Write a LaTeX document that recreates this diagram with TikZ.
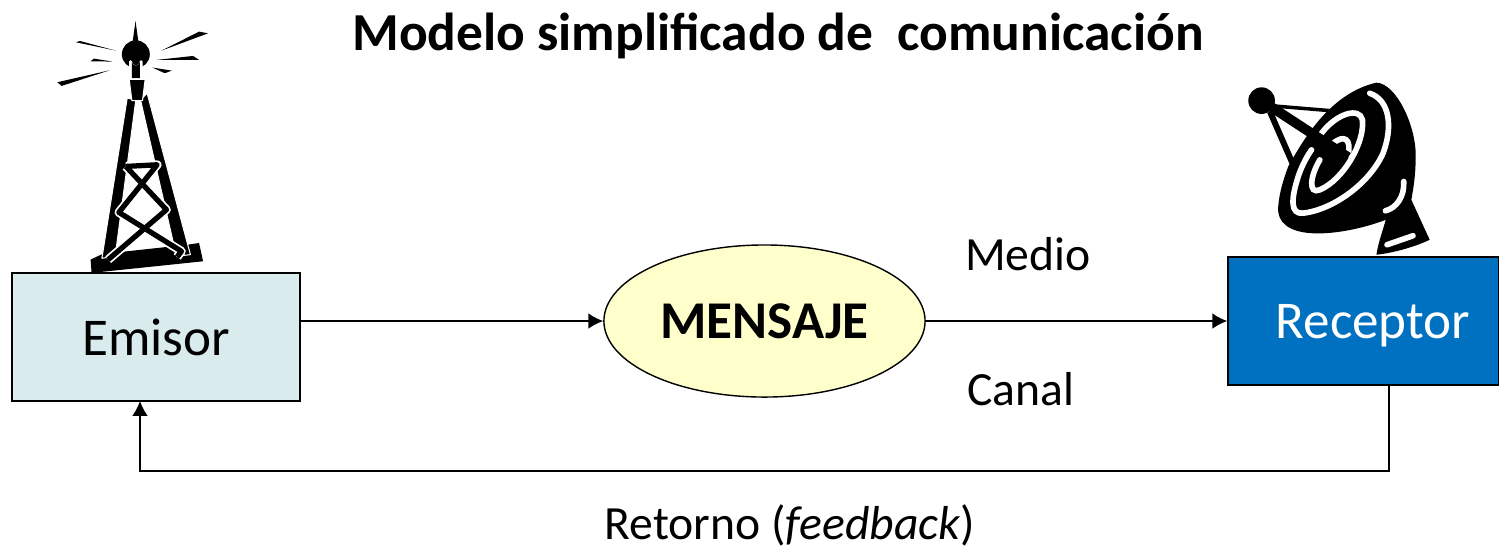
\documentclass[tikz,border=0pt]{standalone}
\usepackage{fontspec}
\setmainfont{Carlito}
\usepackage{tikz}
\usetikzlibrary{arrows.meta,shapes.geometric}
\definecolor{celeste}{HTML}{D9EBEC}
\definecolor{azul}{HTML}{0070C0}
\definecolor{crema}{HTML}{FFFFCC}
\newcommand{\letragrande}{\fontsize{15.1}{18}\selectfont}
\newcommand{\letrachica}{\fontsize{13.55}{16}\selectfont}
\tikzset{
>={Latex[length=4.2pt,width=4.4pt]},
caja/.style={draw=black,line width=0.4pt,inner sep=0pt,minimum height=1.28cm,font=\letragrande},
freccia/.style={->,line width=0.4pt},
etiqueta/.style={inner sep=0pt,font=\letrachica},
negro/.style={fill=black,draw=none},
borde/.style={fill=black,draw=white,line width=0.3pt,line join=round},
reja/.style={draw=white,line width=2.5pt,line join=round},
rejan/.style={draw=black,line width=1.5pt,line join=round},
brillo/.style={draw=white,line width=1.6pt,line cap=round}}

\begin{document}
\begin{tikzpicture}[x=0.01cm,y=-0.01cm]

\useasboundingbox (0,0) rectangle (1499,547);

% antena
\begin{scope}[shift={(40,10)},x=0.00333cm,y=-0.00333cm]
\fill[negro] (287,33) -- (296,98) -- (278,98) -- cycle;
\fill[negro] (108,97) -- (120,93) -- (228,122) -- cycle;
\fill[negro] (152,154) -- (162,146) -- (218,155) -- cycle;
\fill[negro] (52,217) -- (210,181) -- (65,228) -- cycle;
\fill[negro] (365,122) -- (478,65) -- (505,70) -- cycle;
\fill[negro] (350,150) -- (460,138) -- (478,150) -- cycle;
\fill[negro] (338,173) -- (396,182) -- (375,190) -- cycle;
\fill[negro] (152,750) -- (188,733) -- (445,705) -- (478,700) -- (490,755) -- (155,790) -- cycle;
\draw[borde] (262,265) -- (288,270) -- (226,740) -- (186,746) -- cycle;
\draw[borde] (302,270) -- (322,250) -- (452,735) -- (410,740) -- cycle;
\fill[negro] (288,133) circle (42);
\draw[reja,line width=0.8pt] (272,178) -- (272,155) arc (180:0:16) -- (304,178);
\fill[negro] (276,205) -- (276,155) arc (180:0:12) -- (300,205) -- cycle;
\draw[borde] (268,208) -- (316,208) -- (308,272) -- (276,272) -- cycle;
\draw[reja] (258,470) -- (352,465) -- (237,608) -- (425,725) -- (412,742);
\draw[reja] (258,470) -- (380,600) -- (205,750);
\draw[rejan] (258,470) -- (352,465) -- (237,608) -- (425,725) -- (412,742);
\draw[rejan] (258,470) -- (380,600) -- (205,750);
\end{scope}

% parabolica
\begin{scope}[shift={(1220,70)},x=0.00333cm,y=-0.00333cm]
\fill[negro] (205,290) .. controls (250,210) and (330,70) .. (470,38)
  .. controls (530,40) and (590,170) .. (588,260)
  .. controls (588,320) and (580,360) .. (575,390) -- (630,510)
  .. controls (590,530) and (520,550) .. (470,555)
  .. controls (475,520) and (490,480) .. (498,450)
  .. controls (420,480) and (330,495) .. (270,490)
  .. controls (210,485) and (170,460) .. (175,410)
  .. controls (178,370) and (190,330) .. (205,290) -- cycle;
\draw[brillo] (450,70) .. controls (510,90) and (520,170) .. (490,250)
  .. controls (450,340) and (340,420) .. (250,430)
  .. controls (210,435) and (215,385) .. (232,330)
  .. controls (240,300) and (260,260) .. (275,240);
\draw[brillo] (305,190) .. controls (350,130) and (420,110) .. (428,150)
  .. controls (435,220) and (370,330) .. (300,360)
  .. controls (265,375) and (270,320) .. (300,270);
\draw[brillo] (338,222) .. controls (375,190) and (395,210) .. (385,255);
\draw[brillo] (552,335) .. controls (555,380) and (530,415) .. (497,423);
\draw[brillo] (502,525) -- (580,498);
\draw[black,line width=2.8pt] (125,92) -- (385,262);
\draw[black,line width=1pt] (125,105) -- (330,122);
\draw[black,line width=1.7pt] (150,125) -- (220,285);
\fill[negro] (125,92) circle (40);
\end{scope}

\node[caja,fill=celeste,minimum width=2.88cm] (emisor) at (156,337) {Emisor};
\node[caja,fill=azul,text=white,minimum width=2.71cm,text depth=0pt] (receptor) at (1363.5,321) {\hspace*{0.19cm}Receptor};
\node[draw=black,line width=0.4pt,ellipse,fill=crema,inner sep=0pt,minimum width=3.21cm,minimum height=1.52cm,font=\letragrande\bfseries] (mensaje) at (764.5,321) {MENSAJE};

\node[inner sep=0pt,font=\fontsize{15.2}{18}\selectfont\bfseries] (titulo) at (778,36) {Modelo simplificado de\ \ comunicación};
\node[etiqueta] (medio) at (1028,254) {Medio};
\node[etiqueta] (canal) at (1021,389) {Canal};
\node[etiqueta] (retorno) at (790,525) {Retorno (\textit{feedback})};

\coordinate (salida) at (1389,385);
\coordinate (esquina) at (140,471);
\coordinate (entrada) at (140,401);

\draw[freccia] (mensaje -| emisor.east) -- (mensaje.west);
\draw[freccia] (mensaje.east) -- (receptor.west);
\draw[freccia] (salida) |- (esquina) -- (entrada);

\end{tikzpicture}
\end{document}
